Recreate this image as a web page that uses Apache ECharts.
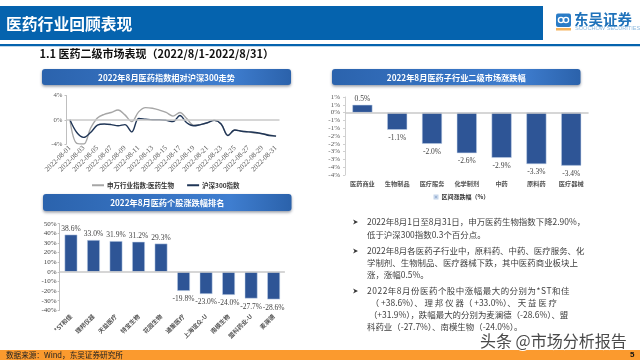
<!DOCTYPE html>
<html>
<head>
<meta charset="utf-8">
<script src="https://cdn.jsdelivr.net/npm/echarts@6/dist/echarts.min.js"></script>
<style>
html,body{margin:0;padding:0;background:#fff}
#main{width:640px;height:360px}
</style>
</head>
<body>
<div id="main"></div>
<script>
var dates = ['2022-08-01','2022-08-02','2022-08-03','2022-08-04','2022-08-05','2022-08-06','2022-08-07','2022-08-08',
    '2022-08-09','2022-08-10','2022-08-11','2022-08-12','2022-08-13','2022-08-14','2022-08-15','2022-08-16',
    '2022-08-17','2022-08-18','2022-08-19','2022-08-20','2022-08-21','2022-08-22','2022-08-23','2022-08-24',
    '2022-08-25','2022-08-26','2022-08-27','2022-08-28','2022-08-29','2022-08-30','2022-08-31'];
var swIndex = [0,-3.9,-4.0,-1.4,0.3,0.9,1.2,1.6,0.8,-0.3,1.3,2.0,1.9,1.6,1.2,0.6,1.2,0.2,-0.9,-0.8,-0.5,-0.1,-0.7,-2.6,-1.7,-1.9,-2.0,-2.2,-2.3,-2.5,-2.7];
var hsIndex = [0,-2.1,-2.9,-2.1,-0.9,-0.7,-0.8,-1.0,-0.8,-2.0,0.2,0.1,0,0,-0.1,-0.3,0.7,-0.5,-1.0,-0.8,-0.5,-0.1,-0.7,-2.6,-1.7,-1.9,-2.0,-2.1,-2.3,-2.6,-2.7];

var subNames = ['医药商业','生物制品','医疗服务','化学制剂','中药','原料药','医疗器械'];
var subValues = [0.5,-1.1,-2.0,-2.6,-2.9,-3.3,-3.4];

var stockNames = ['*ST和佳','理邦仪器','天益医疗','特宝生物','花园生物','通策医疗','上海谊众-U','南模生物','盟科药业-U','麦澜德'];
var stockValues = [38.6,33.0,31.9,31.2,29.3,-19.8,-23.0,-24.0,-27.7,-28.6];

var pageTitle = '医药行业回顾表现';
var subTitle = '1.1 医药二级市场表现（2022/8/1-2022/8/31）';
var bannerTitles = ['2022年8月医药指数相对沪深300走势','2022年8月医药子行业二级市场涨跌幅','2022年8月医药个股涨跌幅排名'];
var bulletLines = [
    ['2022年8月1日至8月31日，申万医药生物指数下降2.90%，','低于沪深300指数0.3个百分点。'],
    ['2022年8月各医药子行业中，原料药、中药、医疗服务、化','学制剂、生物制品、医疗器械下跌，其中医药商业板块上','涨，涨幅0.5%。'],
    ['2022年8月份医药个股中涨幅最大的分别为*ST和佳','  （ +38.6%）、 理 邦 仪 器（ +33.0%）、 天 益 医 疗',' （+31.9%），跌幅最大的分别为麦澜德（-28.6%）、盟','科药业（-27.7%）、南模生物（-24.0%）。']
];
var bulletY = [[222,235],[251,263,275],[291,303,315,327]];

var cjk = '"Noto Sans CJK SC"';
var serif = '"Liberation Serif","Noto Sans CJK SC"';
var blue = '#0563ae';
var barColor = '#2e5596';

var graphic = [
    {type:'rect',shape:{x:0,y:6,width:543,height:34},style:{fill:blue}},
    {type:'rect',shape:{x:0,y:44,width:640,height:2.2},style:{fill:blue}},
    {type:'text',x:6,y:24,style:{text:pageTitle,fill:'#fff',font:'bold 15.8px '+cjk,verticalAlign:'middle'}},
    {type:'text',x:39.5,y:54,style:{text:subTitle,fill:'#111',font:'bold 11px '+cjk,verticalAlign:'middle'}},
    // logo
    {type:'rect',shape:{x:556,y:13.5,width:15,height:13.5,r:2},style:{fill:'#2a7cc7'}},
    {type:'circle',shape:{cx:561,cy:20,r:2.6},style:{fill:'none',stroke:'#fff',lineWidth:1.4}},
    {type:'circle',shape:{cx:566,cy:20,r:2.6},style:{fill:'none',stroke:'#fff',lineWidth:1.4}},
    {type:'rect',shape:{x:556,y:28,width:15,height:2.5},style:{fill:'#f5b35c'}},
    {type:'text',x:574,y:19.5,style:{text:'东吴证券',fill:'#1f72ba',font:'bold 14.5px '+cjk,verticalAlign:'middle'}},
    {type:'text',x:575,y:28.5,style:{text:'SOOCHOW SECURITIES',fill:'#8fbbe0',font:'5.6px "Liberation Sans"',verticalAlign:'middle'}},
    // footer
    {type:'rect',shape:{x:0,y:350,width:640,height:10},style:{fill:'#fb9a2e'}},
    {type:'text',x:6,y:355.5,style:{text:'数据来源：Wind，东吴证券研究所',fill:'#222',font:'7.6px '+cjk,verticalAlign:'middle'}},
    {type:'text',x:630,y:355,style:{text:'5',fill:'#111',font:'bold 8px "Liberation Sans"',verticalAlign:'middle'}},
    {type:'text',x:480,y:341,z:20,style:{text:'头条 @市场分析报告',fill:'#4a4a4a',stroke:'#fff',lineWidth:2,font:'16px '+cjk,verticalAlign:'middle'}}
];

var bannerBox = [[42,69,249,16],[332,69,248.5,16],[43,194,248.5,17]];
for (let i=0;i<bannerBox.length;i++){
    let b = bannerBox[i];
    graphic.push({
        type:'rect',
        shape:{x:b[0],y:b[1],width:b[2],height:b[3],r:3},
        style:{
            fill:new echarts.graphic.LinearGradient(0,0,1,0,[
                {offset:0,color:'#2b63ad'},
                {offset:0.75,color:'#3f7ed0'},
                {offset:1,color:'#2b62ab'}
            ]),
            shadowBlur:3,
            shadowColor:'rgba(60,70,90,0.55)',
            shadowOffsetY:1.5
        }
    });
    graphic.push({
        type:'text',
        x:b[0]+b[2]/2,
        y:b[1]+b[3]/2+0.5,
        z:5,
        style:{text:bannerTitles[i],fill:'#fff',font:'bold 8.2px '+cjk,align:'center',verticalAlign:'middle'}
    });
}

for (let i=0;i<bulletLines.length;i++){
    graphic.push({type:'polygon',shape:{points:[[353,bulletY[i][0]-2.5],[358,bulletY[i][0]],[353,bulletY[i][0]+2.5],[354.5,bulletY[i][0]]]},style:{fill:'#333'}});
    for (let j=0;j<bulletLines[i].length;j++){
        let line = bulletLines[i][j];
        // first line of the last bullet is justified in the slide
        if (i==2 && j==0) line = line.split('').join('\u200a');
        graphic.push({
            type:'text',
            x:367,
            y:bulletY[i][j],
            style:{text:line,fill:'#404040',font:'8.45px '+cjk,verticalAlign:'middle'}
        });
    }
}

function zeroLine() {
    return {
        silent:true,
        symbol:'none',
        label:{show:false},
        lineStyle:{color:'#c9c9c9',width:1.6,type:'solid'},
        data:[{yAxis:0}]
    };
}

// labels sit a little lower than the library centres them, so the gap differs by sign
function barData(values) {
    var out = [];
    for (let i=0;i<values.length;i++){
        out.push({value:values[i],label:{distance:values[i]<0?4.5:2}});
    }
    return out;
}

var myChart = echarts.init(document.getElementById('main'));
var option = {
    animation:false,
    backgroundColor:'#fff',
    graphic:graphic,
    grid:[
        {left:66.5,top:95.5,width:213,height:48.5},
        {left:345,top:97,width:243.6,height:78},
        {left:59.7,top:223.7,width:225.2,height:86.6}
    ],
    legend:[
        {
            data:['申万行业指数:医药生物','沪深300指数'],
            left:92,top:182,itemWidth:12,itemHeight:2,itemGap:13,padding:0,
            icon:'rect',
            textStyle:{fontFamily:cjk,fontWeight:'bold',fontSize:6.5,color:'#333',padding:[0,0,0,-2]}
        },
        {
            data:['区间涨跌幅（%）'],
            left:433.5,top:194,itemWidth:3,itemHeight:3,padding:0,
            icon:'rect',
            textStyle:{fontFamily:cjk,fontWeight:'bold',fontSize:6,color:'#333',padding:[0,0,0,-1]}
        }
    ],
    xAxis:[
        {
            gridIndex:0,type:'category',data:dates,
            axisLine:{show:false,onZero:false},axisTick:{show:false},
            axisLabel:{interval:1,rotate:45,fontFamily:serif,fontSize:7.2,color:'#595959',margin:3}
        },
        {
            gridIndex:1,type:'category',data:subNames,
            axisLine:{show:false,onZero:false},axisTick:{show:false},
            axisLabel:{interval:0,fontFamily:cjk,fontSize:6.2,fontWeight:'bold',color:'#555',margin:6}
        },
        {
            gridIndex:2,type:'category',data:stockNames,
            axisLine:{show:false,onZero:false},axisTick:{show:false},
            axisLabel:{interval:0,rotate:45,fontFamily:cjk,fontSize:6,fontWeight:'bold',color:'#555',margin:5}
        }
    ],
    yAxis:[
        {
            gridIndex:0,type:'value',min:-4,max:4,interval:4,
            axisLine:{show:true,lineStyle:{color:'#bfbfbf'}},
            axisTick:{show:true,length:2,lineStyle:{color:'#bfbfbf'}},
            splitLine:{show:false},
            axisLabel:{formatter:'{value}%',fontFamily:serif,fontSize:6.8,color:'#595959',margin:4}
        },
        {
            gridIndex:1,type:'value',min:-4,max:1,interval:0.5,
            axisLine:{show:true,lineStyle:{color:'#d0d0d0'}},
            axisTick:{show:true,length:2,lineStyle:{color:'#d0d0d0'}},
            splitLine:{show:false},
            axisLabel:{
                formatter:function (v) { return v.toFixed(0)+'%'; },
                fontFamily:serif,fontSize:7,color:'#595959',margin:5
            }
        },
        {
            gridIndex:2,type:'value',min:-40,max:50,interval:10,
            axisLine:{show:true,lineStyle:{color:'#bfbfbf'}},
            axisTick:{show:true,length:2,lineStyle:{color:'#bfbfbf'}},
            splitLine:{show:false},
            axisLabel:{formatter:'{value}%',fontFamily:serif,fontSize:7,color:'#444',margin:3}
        }
    ],
    series:[
        {
            name:'申万行业指数:医药生物',type:'line',xAxisIndex:0,yAxisIndex:0,
            data:swIndex,smooth:0.35,symbol:'none',
            lineStyle:{color:'#a6a6a6',width:1.4},itemStyle:{color:'#a6a6a6'},
            markLine:zeroLine()
        },
        {
            name:'沪深300指数',type:'line',xAxisIndex:0,yAxisIndex:0,
            data:hsIndex,smooth:0.35,symbol:'none',
            lineStyle:{color:'#1f3556',width:1.4},itemStyle:{color:'#1f3556'}
        },
        {
            name:'区间涨跌幅（%）',type:'bar',xAxisIndex:1,yAxisIndex:1,
            data:barData(subValues),barWidth:20,
            itemStyle:{color:barColor,borderColor:'#c5d5ea',borderWidth:0.5},
            label:{show:true,position:'outside',formatter:function (p) { return p.value.toFixed(1)+'%'; },fontFamily:serif,fontSize:7.5,color:'#444'},
            markLine:zeroLine()
        },
        {
            name:'个股涨跌幅',type:'bar',xAxisIndex:2,yAxisIndex:2,
            data:barData(stockValues),barWidth:12.7,
            itemStyle:{color:barColor,borderColor:'#c5d5ea',borderWidth:0.5},
            label:{show:true,position:'outside',formatter:function (p) { return p.value.toFixed(1)+'%'; },fontFamily:serif,fontSize:7.5,color:'#444'},
            markLine:zeroLine()
        }
    ]
};
myChart.setOption(option, true);
</script>
</body>
</html>
